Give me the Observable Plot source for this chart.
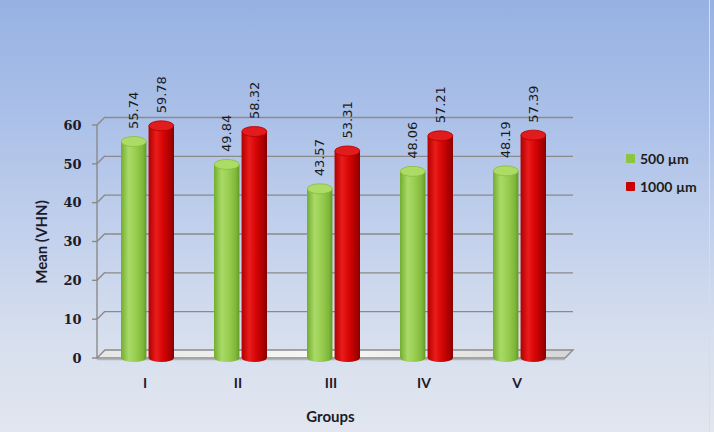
<!DOCTYPE html>
<html><head><meta charset="utf-8">
<script src="https://cdn.jsdelivr.net/npm/d3@7"></script>
<script src="https://cdn.jsdelivr.net/npm/@observablehq/plot@0.6"></script>
<style>
html,body{margin:0;padding:0;}
body{width:714px;height:432px;overflow:hidden;}
#wrap{position:relative;width:714px;height:432px;background:linear-gradient(to bottom,#97b1e2 0%,#a9bfe8 25%,#c3d1ec 55%,#d8e0ee 80%,#e1e6ef 100%);}
#wrap:after{content:"";position:absolute;left:709px;top:0;width:1px;height:432px;background:#d4ddee;}
#legend{position:absolute;left:626px;top:144px;font:bold 14px Lato,"Open Sans",sans-serif;color:#1c1c1c;}
#legend div{display:flex;align-items:center;height:28px;}
#legend span.sw{display:inline-block;width:9px;height:9px;margin-right:5px;border-radius:1px;}
</style>
</head><body>
<div id="wrap"><div id="chart"></div><div id="legend"></div></div>
<script>
const groups = ["I", "II", "III", "IV", "V"];
const seriesNames = ["500 µm", "1000 µm"];
const values500 = [55.74, 49.84, 43.57, 48.06, 48.19];
const values1000 = [59.78, 58.32, 53.31, 57.21, 57.39];
const yTicks = [0, 10, 20, 30, 40, 50, 60];
const seriesColors = ["#8cc63f", "#cc0000"];
const xTitle = "Groups";
const yTitle = "Mean (VHN)";

const rows = [];
groups.forEach((g, i) => {
  rows.push({group: g, series: seriesNames[0], value: values500[i], side: 0});
  rows.push({group: g, series: seriesNames[1], value: values1000[i], side: 1});
});

const W = 714, H = 432, mL = 101, mR = 147, mT = 125, mB = 74;
const pIn = 0.43, pOut = 0.215;
const step = (W - mL - mR) / (groups.length - pIn + 2 * pOut);
const bw = step * (1 - pIn);
const half = bw / 2;
const depthX = 8, depthY = 8;

function defsMark() {
  const defs = d3.create("svg:defs");
  const mk = (id, stops) => {
    const g = defs.append("linearGradient").attr("id", id).attr("x1", "0").attr("x2", "1").attr("y1", "0").attr("y2", "0");
    stops.forEach(([o, c]) => g.append("stop").attr("offset", o).attr("stop-color", c));
  };
  mk("gGreen", [[0, "#72ad30"], [0.3, "#a9da68"], [0.55, "#9bcf52"], [0.85, "#80b83c"], [1, "#649a26"]]);
  mk("gRed", [[0, "#b00000"], [0.3, "#ea1c1c"], [0.55, "#d80606"], [0.85, "#aa0000"], [1, "#860000"]]);
  mk("gFloor", [[0, "#e6e6e6"], [0.5, "#f8f8f8"], [1, "#d6d6d6"]]);
  return defs.node();
}

function frameMark(index, scales, values, dim) {
  const y = scales.y;
  const L = dim.marginLeft, R = dim.width - dim.marginRight;
  const g = d3.create("svg:g").attr("fill", "none").attr("stroke", "#8a8a8a").attr("stroke-width", 1.4);
  const y0 = y(0);
  g.append("path")
    .attr("d", `M${L - 4},${y0}L${R - 2},${y0}L${R + 6},${y0 - depthY}L${L + 4},${y0 - depthY}Z`)
    .attr("fill", "url(#gFloor)");
  g.append("line").attr("x1", L - 4).attr("x2", R - 2).attr("y1", y0 + 1.5).attr("y2", y0 + 1.5).attr("stroke", "#b5b5b5");
  g.append("line").attr("x1", L - 4).attr("x2", L - 4).attr("y1", y0).attr("y2", y(d3.max(yTicks)));
  for (const t of yTicks) {
    const yy = y(t);
    g.append("line").attr("x1", L - 9).attr("x2", L - 4).attr("y1", yy).attr("y2", yy);
    if (t > 0) g.append("line").attr("x1", L - 4).attr("x2", L + 4).attr("y1", yy).attr("y2", yy - depthY);
  }
  return g.node();
}

function capsMark(index, scales, values, dim) {
  const x = scales.x, y = scales.y;
  const g = d3.create("svg:g");
  const rx = half / 2 - 0.8, ry = 5;
  for (const r of rows) {
    const cx = x(r.group) + (r.side === 0 ? half / 2 - 0.5 : half + half / 2 + 0.5);
    const fillUrl = r.side === 0 ? "url(#gGreen)" : "url(#gRed)";
    g.append("ellipse").attr("cx", cx).attr("cy", y(0)).attr("rx", rx).attr("ry", ry - 1).attr("fill", fillUrl);
    g.append("ellipse").attr("cx", cx).attr("cy", y(r.value)).attr("rx", rx).attr("ry", ry)
      .attr("fill", r.side === 0 ? "#acdc66" : "#e21c1c")
      .attr("stroke", r.side === 0 ? "#86bd3c" : "#b30000").attr("stroke-width", 0.8);
  }
  return g.node();
}

const labelStyle = {fontSize: 13, fill: "#1a1a1a", fontFamily: "DejaVu Sans", rotate: -90, textAnchor: "start", dy: -13};

const chart = Plot.plot({
  width: W, height: H,
  marginLeft: mL, marginRight: mR, marginTop: mT, marginBottom: mB,
  style: {background: "transparent", overflow: "visible"},
  x: {type: "band", domain: groups, paddingInner: pIn, paddingOuter: pOut, label: null},
  y: {domain: [0, 60], label: null},
  marks: [
    defsMark,
    Plot.ruleY(yTicks.filter(t => t > 0), {y: d => d, dx: depthX - 2, dy: -depthY, insetLeft: -2, stroke: "#8a8a8a", strokeWidth: 1.4}),
    frameMark,
    Plot.barY(rows.filter(r => r.side === 0), {x: "group", y: "value", fill: "url(#gGreen)", insetRight: half + 1}),
    Plot.barY(rows.filter(r => r.side === 1), {x: "group", y: "value", fill: "url(#gRed)", insetLeft: half + 1}),
    capsMark,
    Plot.text(rows.filter(r => r.side === 0), {x: "group", y: "value", text: d => d.value.toFixed(2), dx: -half / 2 - 0.5, ...labelStyle}),
    Plot.text(rows.filter(r => r.side === 1), {x: "group", y: "value", text: d => d.value.toFixed(2), dx: half / 2 + 0.5, ...labelStyle}),
    Plot.axisY({ticks: yTicks, tickSize: 0, tickPadding: 20, fontSize: 13, fontWeight: "bold", fontFamily: "DejaVu Serif", fill: "#1b1b2a", label: null}),
    Plot.axisX({tickSize: 0, tickPadding: 20, fontSize: 14, fontWeight: "bold", fontFamily: "Lato", fill: "#1b1b2a", dx: -3, label: null}),
    Plot.text([xTitle], {frameAnchor: "bottom", textAnchor: "middle", dy: 63, fontSize: 15, fontWeight: "bold", fontFamily: "Lato", fill: "#1b1b2a", dx: -4}),
    Plot.text([yTitle], {frameAnchor: "left", textAnchor: "middle", dx: -59, rotate: -90, fontSize: 15, fontWeight: "bold", fontFamily: "Lato", fill: "#1b1b2a"})
  ]
});
document.getElementById("chart").appendChild(chart);

const legend = document.getElementById("legend");
seriesNames.forEach((s, i) => {
  const row = document.createElement("div");
  const sw = document.createElement("span");
  sw.className = "sw";
  sw.style.background = seriesColors[i];
  row.appendChild(sw);
  row.appendChild(document.createTextNode(s));
  legend.appendChild(row);
});
</script>
</body></html>
